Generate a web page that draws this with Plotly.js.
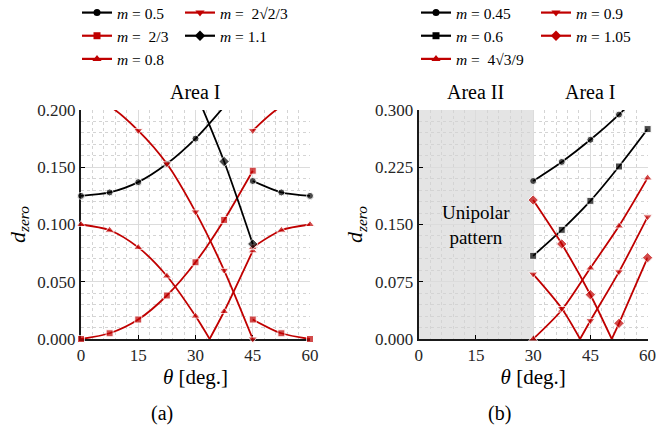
<!DOCTYPE html>
<html>
<head>
<meta charset="utf-8">
<script src="https://cdn.plot.ly/plotly-3.0.1.min.js"></script>
<style>html,body{margin:0;padding:0;background:#fff}#chart{width:656px;height:427px}</style>
</head>
<body>
<div id="chart"></div>
<script>
// ---------- Panel (a) data: theta [deg.] vs d_zero (null separates branches) ----------
const thetaA_050 = [0, 7.5, 15, 22.5, 30, 37.5, null, 45, 52.5, 60];
const dA_050     = [0.125, 0.128, 0.137, 0.153, 0.175, 0.203, null, 0.138, 0.128, 0.125];

const thetaA_067 = [0, 7.5, 15, 22.5, 30, 37.5, 45, null, 45, 52.5, 60];
const dA_067     = [0, 0.005, 0.017, 0.038, 0.067, 0.104, 0.147, null, 0.017, 0.005, 0];

const thetaA_080 = [0, 7.5, 15, 22.5, 30, 33.7, null, 33.7, 37.5, 45, null, 45, 52.5, 60];
const dA_080     = [0.100, 0.095, 0.080, 0.055, 0.020, 0, null, 0, 0.024, 0.077, null, 0.080, 0.095, 0.100];

const thetaA_094 = [0, 7.5, 15, 22.5, 30, 37.5, 45, null, 45, 52.5, 60];
const dA_094     = [0.209, 0.203, 0.182, 0.153, 0.111, 0.060, 0, null, 0.182, 0.203, 0.209];

const thetaA_110 = [30, 37.5, 45];
const dA_110     = [0.216, 0.155, 0.083];

// ---------- Panel (b) data ----------
const thetaB_045 = [30, 37.5, 45, 52.5, 60];
const dB_045     = [0.207, 0.232, 0.261, 0.294, 0.332];

const thetaB_060 = [30, 37.5, 45, 52.5, 60];
const dB_060     = [0.109, 0.143, 0.181, 0.226, 0.275];

const thetaB_077 = [30, 37.5, 45, 52.5, 60];
const dB_077     = [0, 0.038, 0.093, 0.148, 0.211];

const thetaB_090 = [30, 37.5, 42.3, null, 42.3, 45, 52.5, 60];
const dB_090     = [0.085, 0.040, 0, null, 0, 0.024, 0.088, 0.160];

const thetaB_105 = [30, 37.5, 45, 50.6, null, 50.6, 52.5, 60];
const dB_105     = [0.182, 0.1245, 0.058, 0, null, 0, 0.0205, 0.1065];

// ---------- labels ----------
const xTicks = [0, 15, 30, 45, 60];
const namesA = ['<i>m</i> = 0.5', '<i>m</i> =  2/3', '<i>m</i> = 0.8', '<i>m</i> =  2√2/3', '<i>m</i> = 1.1'];
const namesB = ['<i>m</i> = 0.45', '<i>m</i> = 0.6', '<i>m</i> =  4√3/9', '<i>m</i> = 0.9', '<i>m</i> = 1.05'];

const FONT = 'Liberation Serif';
const RED = '#C00000', BLACK = '#000000';

const series = [
  {x: thetaA_050, y: dA_050, name: namesA[0], c: BLACK, s: 'circle', ms: 7, ax: 1, lg: 'legend'},
  {x: thetaA_067, y: dA_067, name: namesA[1], c: RED, s: 'square', ms: 7, ax: 1, lg: 'legend'},
  {x: thetaA_080, y: dA_080, name: namesA[2], c: RED, s: 'triangle-up', ms: 8, ax: 1, lg: 'legend'},
  {x: thetaA_094, y: dA_094, name: namesA[3], c: RED, s: 'triangle-down', ms: 8, ax: 1, lg: 'legend2'},
  {x: thetaA_110, y: dA_110, name: namesA[4], c: BLACK, s: 'diamond', ms: 8, ax: 1, lg: 'legend2'},
  {x: thetaB_045, y: dB_045, name: namesB[0], c: BLACK, s: 'circle', ms: 7, ax: 2, lg: 'legend3'},
  {x: thetaB_060, y: dB_060, name: namesB[1], c: BLACK, s: 'square', ms: 7, ax: 2, lg: 'legend3'},
  {x: thetaB_077, y: dB_077, name: namesB[2], c: RED, s: 'triangle-up', ms: 8, ax: 2, lg: 'legend3'},
  {x: thetaB_090, y: dB_090, name: namesB[3], c: RED, s: 'triangle-down', ms: 8, ax: 2, lg: 'legend4'},
  {x: thetaB_105, y: dB_105, name: namesB[4], c: RED, s: 'diamond', ms: 8, ax: 2, lg: 'legend4'}
];
const yMax = {1: 0.2, 2: 0.3};

const traces = [];
series.forEach(sr => {
  const xa = sr.ax === 1 ? 'x' : 'x2', ya = sr.ax === 1 ? 'y' : 'y2';
  const sizes = sr.x.map((t, i) => (t !== null && Math.abs(t / 7.5 - Math.round(t / 7.5)) < 1e-9 && sr.y[i] <= yMax[sr.ax] + 1e-9) ? sr.ms : 0);
  traces.push({
    x: sr.x, y: sr.y, xaxis: xa, yaxis: ya, type: 'scatter', mode: 'lines+markers',
    line: {color: sr.c, width: 1.8, shape: 'spline', smoothing: 0.8},
    marker: {color: sr.c, symbol: sr.s, size: sizes},
    connectgaps: false, cliponaxis: false, showlegend: false, hoverinfo: 'skip'
  });
  traces.push({
    x: [null], y: [null], xaxis: xa, yaxis: ya, type: 'scatter', mode: 'lines+markers', name: sr.name,
    line: {color: sr.c, width: 2.2}, marker: {color: sr.c, symbol: sr.s, size: sr.ms},
    showlegend: true, legend: sr.lg
  });
});

function xAxis(domain, anchor) {
  return {
    domain: domain, anchor: anchor, range: [0, 60], tickvals: xTicks, ticktext: xTicks.map(String),
    ticks: 'inside', ticklen: 4, tickcolor: '#000', showline: true, linewidth: 2, linecolor: '#1a1a1a',
    showgrid: true, gridcolor: '#dcdcdc', gridwidth: 1, zeroline: false, layer: 'below traces',
    ticklabeloverflow: 'allow',
    minor: {dtick: 3, tick0: 0, showgrid: true, gridcolor: '#d4d4d4', griddash: 'dot', gridwidth: 1},
    tickfont: {family: FONT, size: 17, color: '#262626'},
    title: {text: '<i>θ</i> [deg.]', font: {family: FONT, size: 21, color: '#000'}, standoff: 2}
  };
}
function yAxis(domain, anchor, maxv, dt, mdt) {
  return {
    domain: domain, anchor: anchor, range: [0, maxv], dtick: dt, tick0: 0, tickformat: '.3f',
    ticks: 'inside', ticklen: 4, tickcolor: '#000', showline: true, linewidth: 2, linecolor: '#1a1a1a',
    showgrid: true, gridcolor: '#dcdcdc', gridwidth: 1, zeroline: false, layer: 'below traces',
    ticklabeloverflow: 'allow',
    minor: {dtick: mdt, tick0: 0, showgrid: true, gridcolor: '#d4d4d4', griddash: 'dot', gridwidth: 1},
    tickfont: {family: FONT, size: 17, color: '#262626'},
    title: {text: '<i>d<sub>zero</sub></i>', font: {family: FONT, size: 22, color: '#000'}, standoff: 6}
  };
}
const yDom = [1 - 339 / 427, 1 - 110 / 427];
function leg(px) {
  return {bgcolor: 'rgba(0,0,0,0)', borderwidth: 0, font: {family: FONT, size: 15.5, color: '#000'},
    orientation: 'v', yanchor: 'top', y: 1 + 4 / 427, xanchor: 'left', x: px / 656, tracegroupgap: 0};
}
function ann(text, xref, yref, x, y, size) {
  return {text: text, xref: xref, yref: yref, x: x, y: y, xanchor: 'center', yanchor: 'middle',
    showarrow: false, font: {family: FONT, size: size, color: '#000'}};
}

const layout = {
  width: 656, height: 427, margin: {l: 0, r: 0, t: 0, b: 0, autoexpand: false},
  paper_bgcolor: '#fff', plot_bgcolor: '#fff', font: {family: FONT, color: '#000', size: 17},
  xaxis: xAxis([81 / 656, 310 / 656], 'y'),
  yaxis: yAxis(yDom, 'x', 0.2, 0.05, 0.01),
  xaxis2: xAxis([418.7 / 656, 647.6 / 656], 'y2'),
  yaxis2: yAxis(yDom, 'x2', 0.3, 0.075, 0.015),
  legend: leg(77),
  legend2: leg(180),
  legend3: leg(416),
  legend4: leg(536),
  shapes: [{type: 'rect', xref: 'x2', yref: 'y2 domain', x0: 0, x1: 30, y0: 0, y1: 1,
    fillcolor: '#e4e4e4', line: {width: 0}, layer: 'below'}],
  annotations: [
    ann('Area I', 'x', 'paper', 30, 1 - 92 / 427, 20),
    ann('Area II', 'x2', 'paper', 15, 1 - 92 / 427, 20),
    ann('Area I', 'x2', 'paper', 45, 1 - 92 / 427, 20),
    ann('Unipolar<br>pattern', 'x2', 'y2', 15, 0.149, 19),
    ann('(a)', 'paper', 'paper', 162 / 656, 1 - 413 / 427, 20),
    ann('(b)', 'paper', 'paper', 499.5 / 656, 1 - 413 / 427, 20)
  ]
};

Plotly.newPlot('chart', traces, layout, {staticPlot: true, displayModeBar: false});
</script>
</body>
</html>
